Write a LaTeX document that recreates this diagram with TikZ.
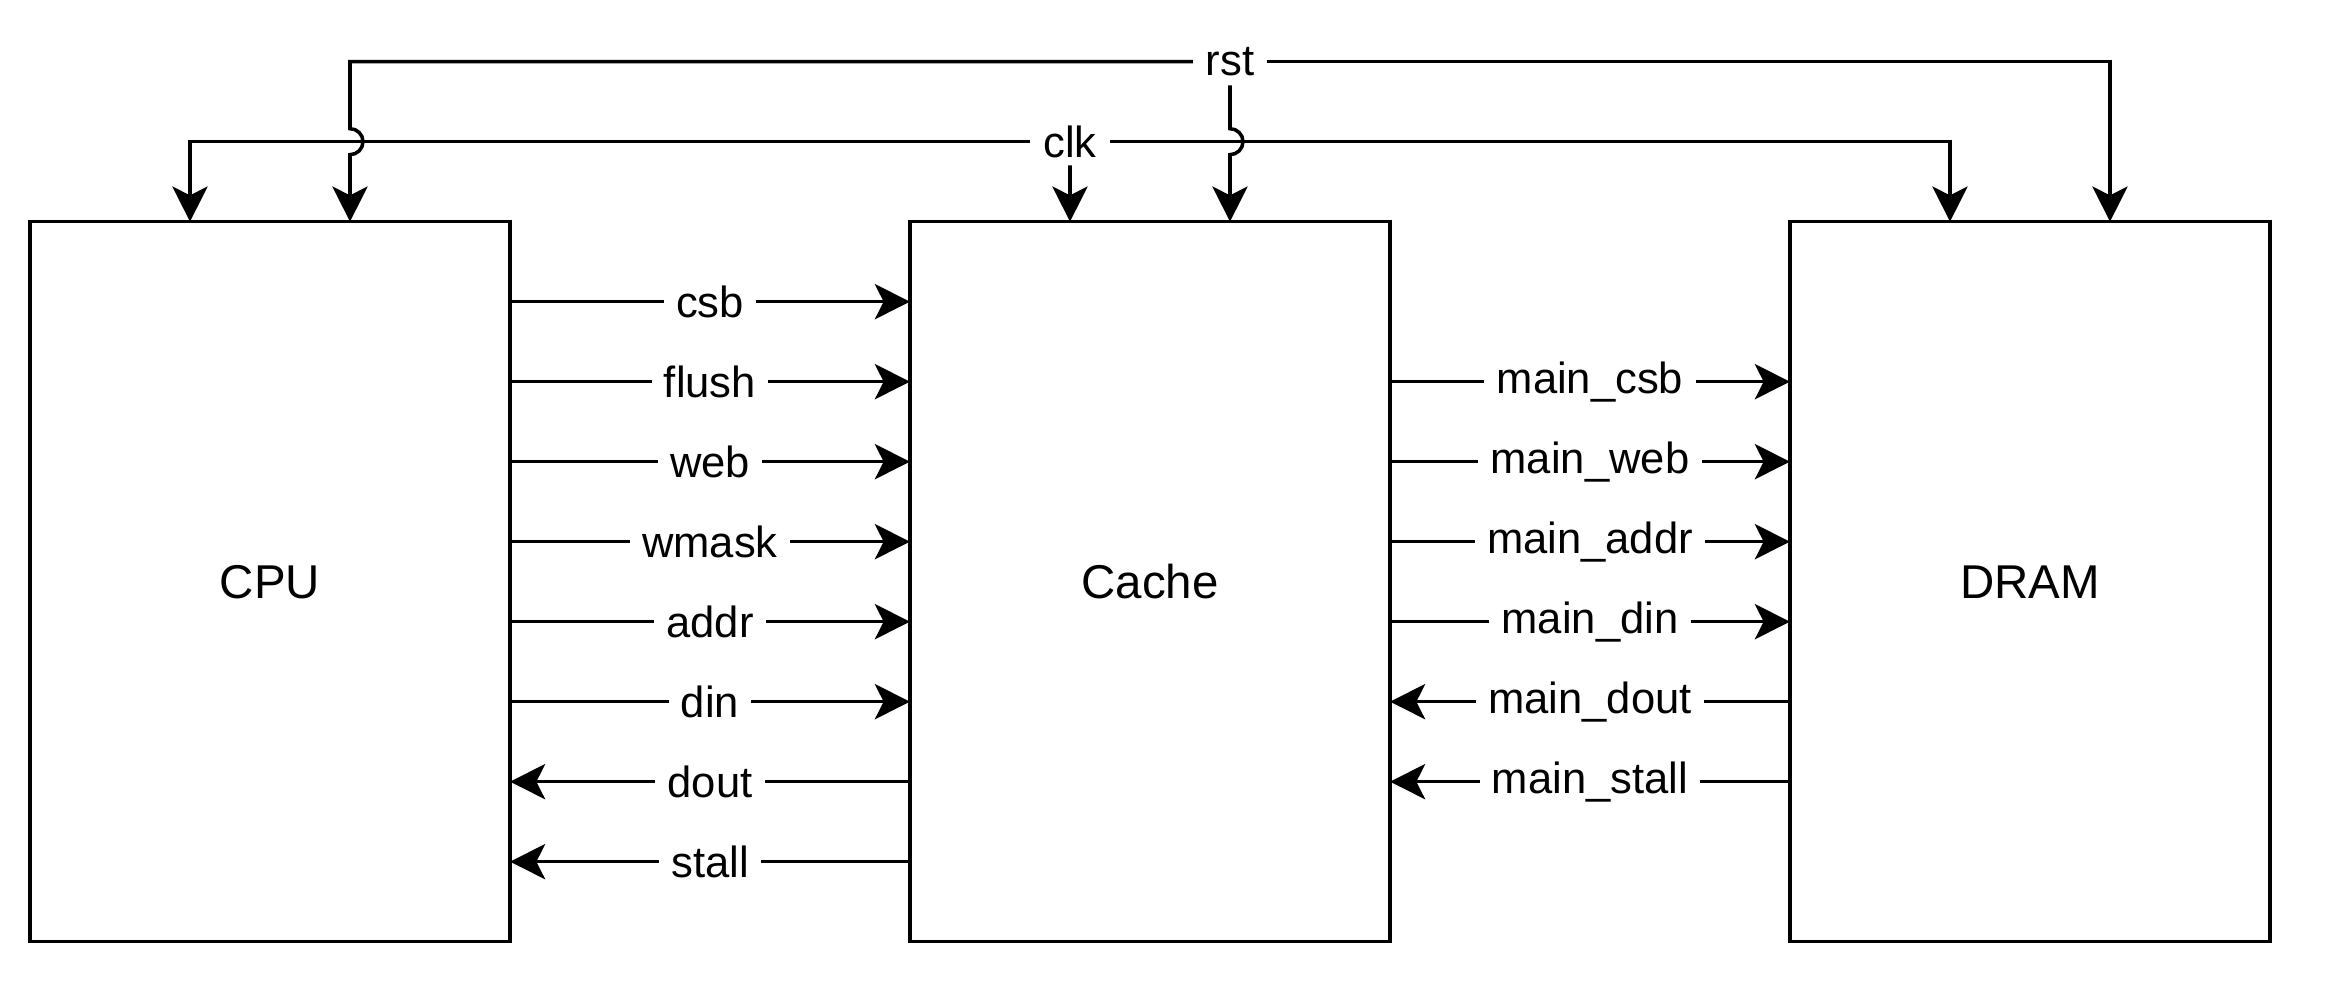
\documentclass[tikz,border=0pt]{standalone}
\usepackage{fontspec}
\setmainfont{Liberation Sans}
\usetikzlibrary{arrows.meta}

\begin{document}
\begin{tikzpicture}[
  blk/.style = {draw, line width = 1pt, outer sep = 0pt, minimum width = 4.8cm, minimum height = 7.2cm, font = \fontsize{13.5}{16}\selectfont},
  sig/.style = {line width = 1pt, -{Stealth[length = 10pt, width = 10pt, inset = 2.5pt]}},
  wire/.style = {line width = 1pt},
  lbl/.style = {fill = white, inner xsep = 3.5pt, inner ysep = 0pt, minimum height = 0.46cm, font = \fontsize{12.4}{14}\selectfont}
]
\useasboundingbox (-0.3,-0.583) rectangle (22.98,9.417);

% blocks
\node [blk] (cpu) at (2.4,3.6) {CPU};
\node [blk] (cache) at (11.2,3.6) {Cache};
\node [blk] (dram) at (20,3.6) {DRAM};

% clock and reset
\node [lbl] (rstl) at (12,8.8) {rst};
\node [lbl] (clkl) at (10.4,8) {clk};
\draw [sig] (clkl.west) -| ([xshift = -8mm]cpu.north);
\draw [sig] (clkl.east) -| ([xshift = -8mm]dram.north);
\draw [sig] (clkl.south) -- ([xshift = -8mm]cache.north);
\draw [sig] (rstl.west) -| (3.2,8.13) arc [start angle = 90, end angle = -90, radius = 0.13] -- ([xshift = 8mm]cpu.north);
\draw [sig] (rstl.east) -| ([xshift = 8mm]dram.north);
\draw [sig] (rstl.south) -- (12,8.13) arc [start angle = 90, end angle = -90, radius = 0.13] -- ([xshift = 8mm]cache.north);

% cpu <-> cache
\draw [sig] ([yshift = -8mm]cpu.north east) -- node [lbl] {csb} ([yshift = -8mm]cache.north west);
\draw [sig] ([yshift = -16mm]cpu.north east) -- node [lbl] {flush} ([yshift = -16mm]cache.north west);
\draw [sig] ([yshift = -24mm]cpu.north east) -- node [lbl] {web} ([yshift = -24mm]cache.north west);
\draw [sig] ([yshift = -32mm]cpu.north east) -- node [lbl] {wmask} ([yshift = -32mm]cache.north west);
\draw [sig] ([yshift = -40mm]cpu.north east) -- node [lbl] {addr} ([yshift = -40mm]cache.north west);
\draw [sig] ([yshift = -48mm]cpu.north east) -- node [lbl] {din} ([yshift = -48mm]cache.north west);
\draw [sig] ([yshift = -56mm]cache.north west) -- node [lbl] {dout} ([yshift = -56mm]cpu.north east);
\draw [sig] ([yshift = -64mm]cache.north west) -- node [lbl] {stall} ([yshift = -64mm]cpu.north east);

% cache <-> dram
\draw [sig] ([yshift = -16mm]cache.north east) -- node [lbl] {main\_csb} ([yshift = -16mm]dram.north west);
\draw [sig] ([yshift = -24mm]cache.north east) -- node [lbl] {main\_web} ([yshift = -24mm]dram.north west);
\draw [sig] ([yshift = -32mm]cache.north east) -- node [lbl] {main\_addr} ([yshift = -32mm]dram.north west);
\draw [sig] ([yshift = -40mm]cache.north east) -- node [lbl] {main\_din} ([yshift = -40mm]dram.north west);
\draw [sig] ([yshift = -48mm]dram.north west) -- node [lbl] {main\_dout} ([yshift = -48mm]cache.north east);
\draw [sig] ([yshift = -56mm]dram.north west) -- node [lbl] {main\_stall} ([yshift = -56mm]cache.north east);
\end{tikzpicture}
\end{document}
